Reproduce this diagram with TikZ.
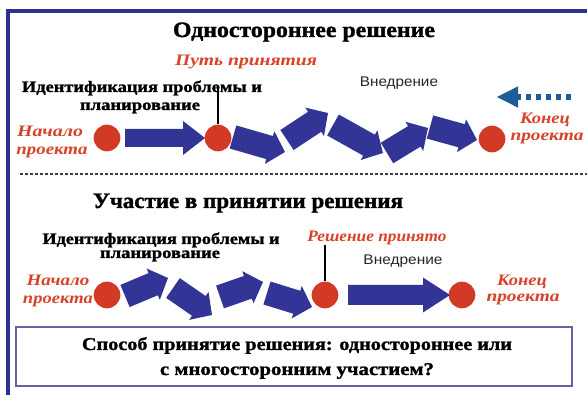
\documentclass[tikz,border=0pt]{standalone}
\usepackage{fontspec}
\usepackage{graphicx}
\setmainfont{Liberation Serif}
\newfontfamily\sansf{Liberation Sans}
\newfontfamily\heavyserif{Liberation Serif}[BoldFeatures={FakeBold=1.3}]

\definecolor{framenavy}{RGB}{46,49,146}
\definecolor{arrowblue}{RGB}{50,52,150}
\definecolor{dotred}{RGB}{210,58,38}
\definecolor{labelred}{RGB}{216,66,40}
\definecolor{hintblue}{RGB}{30,92,150}
\definecolor{boxline}{RGB}{105,95,170}
\definecolor{sepgray}{RGB}{60,60,70}

% stretch a line of text to a given width (pt), keeping its height
\newcommand\fitto[2]{\resizebox{#1pt}{\height}{#2}}

% block arrow from (x1,y1) to (x2,y2): body half width, head half width, head length
\newcommand\blockarr[7]{%
  \pgfmathsetmacro\baang{atan2(#2-#4,#3-#1)}%
  \pgfmathsetmacro\balen{veclen(#3-#1,#4-#2)}%
  \fill[arrowblue,shift={(#1,#2)},rotate=\baang]
    (0,-#5) -- (\balen-#7,-#5) -- (\balen-#7,-#6) -- (\balen,0)
    -- (\balen-#7,#6) -- (\balen-#7,#5) -- (0,#5) -- cycle;}

\begin{document}
\begin{tikzpicture}[x=0.75pt,y=-0.75pt,
  txt/.style={inner sep=0pt,anchor=base},
  heading/.style={txt,font=\heavyserif\bfseries\fontsize{16.5}{19}\selectfont},
  stage/.style={txt,font=\heavyserif\bfseries\fontsize{12}{13}\selectfont},
  redlabel/.style={txt,text=labelred,font=\bfseries\itshape\fontsize{12}{14}\selectfont},
  impl/.style={txt,font=\sansf\fontsize{10.5}{12}\selectfont,text=black!85},
  question/.style={txt,font=\heavyserif\bfseries\fontsize{13.5}{16}\selectfont},
  milestone/.style={circle,fill=dotred,minimum size=20pt,inner sep=0pt},
  tick/.style={line width=1.5pt,black}]

\useasboundingbox (0,0) rectangle (587,395);
\fill[white] (0,0) rectangle (587,395);

% outer frame: top and left rules
\draw[framenavy,line width=3pt] (6,11) -- (587,11);
\draw[framenavy,line width=3pt] (8,9.5) -- (8,395);

% ---------- one-sided decision ----------
\node[heading] (title1) at (304,37) {\fitto{196.5}{Одностороннее решение}};
\node[redlabel] (path1) at (246,66) {\fitto{106.5}{Путь принятия}};
\node[stage] (ident1a) at (142,92) {\fitto{180}{Идентификация проблемы и}};
\node[stage] (ident1b) at (140,110) {\fitto{90}{планирование}};
\node[impl] (impl1) at (399,87) {\fitto{58.5}{Внедрение}};
\node[redlabel] (start1a) at (50,137) {\fitto{49.5}{Начало}};
\node[redlabel] (start1b) at (52,155) {\fitto{53.25}{проекта}};
\node[redlabel] (end1a) at (545,124) {\fitto{37.5}{Конец}};
\node[redlabel] (end1b) at (547,141) {\fitto{54.75}{проекта}};

\node[milestone] (d11) at (107,138) {};
\node[milestone] (d12) at (218,138) {};
\node[milestone] (d13) at (492,139) {};

\coordinate (tick1) at (218,88);
\draw[tick] (tick1) -- (d12.north);

\blockarr{125}{138}{205}{138}{9}{17}{22}
\blockarr{233}{137}{285}{152}{12}{17}{16}
\blockarr{287}{140}{328}{113}{12}{17}{16}
\blockarr{333}{125}{383}{153}{12}{17}{16}
\blockarr{387}{153}{428}{128}{12}{17}{16}
\blockarr{430}{127}{477}{140}{12}{17}{16}

% dotted hint arrow pointing back to the start
\coordinate (hintTail) at (571,97);
\coordinate (hintTip) at (497,97);
\coordinate (hintNeck) at (518,97);
\draw[hintblue,line width=4.5pt,dash pattern=on 3.75pt off 3.75pt] (hintTail) -- (hintNeck);
\fill[hintblue] (hintTip) -- ([yshift=-8]hintNeck) -- ([yshift=8]hintNeck) -- cycle;

% separator
\draw[sepgray,line width=1.5pt,dash pattern=on 2.25pt off 1.5pt] (20,174) -- (587,174);

% ---------- participative decision ----------
\node[heading] (title2) at (248,208) {\fitto{232.5}{Участие в принятии решения}};
\node[stage] (ident2a) at (161,244) {\fitto{177.75}{Идентификация проблемы и}};
\node[stage] (ident2b) at (160,258) {\fitto{90}{планирование}};
\node[redlabel] (made2) at (377,242) {\fitto{104.25}{Решение принято}};
\node[impl] (impl2) at (403,265) {\fitto{59.25}{Внедрение}};
\node[redlabel] (start2a) at (58,286) {\fitto{47.25}{Начало}};
\node[redlabel] (start2b) at (58,304) {\fitto{52.5}{проекта}};
\node[redlabel] (end2a) at (522,286) {\fitto{37.5}{Конец}};
\node[redlabel] (end2b) at (523,302) {\fitto{54.75}{проекта}};

\node[milestone] (d21) at (107,295) {};
\node[milestone] (d22) at (325,295) {};
\node[milestone] (d23) at (462,295) {};

\coordinate (tick2) at (325,245);
\draw[tick] (tick2) -- (d22.north);

\blockarr{125}{296}{168}{278}{12}{17}{16}
\blockarr{173}{288}{212}{315}{12}{17}{16}
\blockarr{220}{297}{263}{282}{12}{17}{16}
\blockarr{267}{293}{312}{307}{12}{17}{16}
\blockarr{348}{295}{450}{295}{10}{17.5}{27}

% ---------- question box ----------
\node[draw=boxline,line width=1.9pt,fill=white,inner sep=0pt,
      minimum width=417pt,minimum height=44.25pt] (qbox) at (294,356.5) {};
\node[question] (q1) at (297,350) {\fitto{322.5}{Способ принятие решения: одностороннее или}};
\node[question] (q2) at (297,375) {\fitto{205.5}{с многосторонним участием?}};

\end{tikzpicture}
\end{document}
